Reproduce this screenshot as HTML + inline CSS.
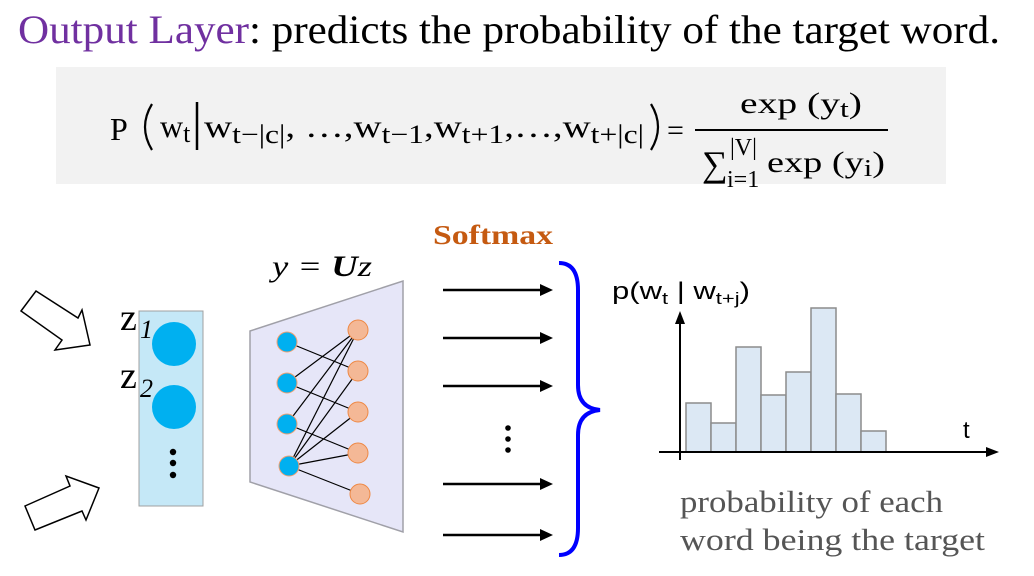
<!DOCTYPE html>
<html><head><meta charset="utf-8"><style>
html,body{margin:0;padding:0;background:#fff;}
svg{display:block;}
</style></head><body>
<svg width="1034" height="576" viewBox="0 0 1034 576">
<text x="18" y="43" font-family="Liberation Serif, serif" font-size="40" fill="#000" textLength="982" lengthAdjust="spacingAndGlyphs"><tspan fill="#7030a0">Output Layer</tspan>: predicts the probability of the target word.</text>
<rect x="56" y="67" width="890" height="117" fill="#f2f2f2"/>
<g font-family="Liberation Serif, serif" fill="#000">
<text x="110" y="140" font-size="32">P</text>
<path d="M152,104 Q138,127 152,150" fill="none" stroke="#000" stroke-width="2.2"/>
<text x="160" y="137" font-size="32">w<tspan font-size="26" dy="5">t</tspan></text>
<line x1="197" y1="102" x2="197" y2="150" stroke="#000" stroke-width="2.5"/>
<text x="204" y="137" font-size="32" textLength="440" lengthAdjust="spacingAndGlyphs">w<tspan font-size="26" dy="6">t−|c|</tspan><tspan dy="-6">, …,w</tspan><tspan font-size="26" dy="6">t−1</tspan><tspan dy="-6">,w</tspan><tspan font-size="26" dy="6">t+1</tspan><tspan dy="-6">,…,w</tspan><tspan font-size="26" dy="6">t+|c|</tspan></text>
<path d="M651,104 Q665,127 651,150" fill="none" stroke="#000" stroke-width="2.2"/>
<text x="667" y="140" font-size="30">=</text>
<line x1="695" y1="130" x2="888" y2="130" stroke="#000" stroke-width="2"/>
<text x="740" y="113" font-size="30" textLength="122" lengthAdjust="spacingAndGlyphs">exp (y<tspan font-size="24" dy="4">t</tspan><tspan dy="-4">)</tspan></text>
<text x="702" y="176" font-size="36">∑</text>
<text x="730" y="155" font-size="24">|V|</text>
<text x="727" y="187" font-size="24">i=1</text>
<text x="767" y="172" font-size="30" textLength="118" lengthAdjust="spacingAndGlyphs">exp (y<tspan font-size="24" dy="4">i</tspan><tspan dy="-4">)</tspan></text>
</g>
<g fill="#fff" stroke="#000" stroke-width="1.5">
<polygon points="21,311 36,291 78,318 82,310 90,345 55,350 62,340"/>
<polygon points="25,506 70,486 66,476 99,488 86,520 82,511 35,530"/>
</g>
<rect x="139" y="311" width="64" height="195" fill="#c5e8f7" stroke="#a0a0a0"/>
<circle cx="174" cy="344" r="22" fill="#00b0f0"/>
<circle cx="174" cy="407" r="22" fill="#00b0f0"/>
<g fill="#000"><circle cx="173" cy="452" r="3.2"/><circle cx="173" cy="463" r="3.2"/><circle cx="173" cy="475" r="3.2"/></g>
<g font-family="Liberation Serif, serif" fill="#000">
<text x="120" y="330" font-size="38">z</text><text x="140" y="338" font-size="26" font-style="italic">1</text>
<text x="120" y="388" font-size="38">z</text><text x="140" y="397" font-size="26" font-style="italic">2</text>
</g>
<text x="272" y="276" font-family="Liberation Serif, serif" font-size="30" font-style="italic" textLength="100" lengthAdjust="spacingAndGlyphs">y = <tspan font-weight="bold">U</tspan>z</text>
<polygon points="250,331 403,281 403,532 250,482" fill="#e6e6f8" stroke="#a0a0a8" stroke-width="1.5"/>
<g stroke="#000" stroke-width="1.2">
<line x1="287" y1="342" x2="358" y2="371"/><line x1="287" y1="383" x2="358" y2="330"/><line x1="287" y1="383" x2="358" y2="412"/>
<line x1="287" y1="424" x2="358" y2="330"/><line x1="287" y1="424" x2="358" y2="453"/><line x1="289" y1="466" x2="358" y2="330"/>
<line x1="289" y1="466" x2="358" y2="371"/><line x1="289" y1="466" x2="358" y2="412"/><line x1="289" y1="466" x2="358" y2="453"/><line x1="289" y1="466" x2="360" y2="494"/>
</g>
<g fill="#00b0f0" stroke="#f4a070" stroke-width="1">
<circle cx="287" cy="342" r="10"/><circle cx="287" cy="383" r="10"/><circle cx="287" cy="424" r="10"/><circle cx="289" cy="466" r="10"/>
</g>
<g fill="#f4b896" stroke="#ee8844" stroke-width="1">
<circle cx="358" cy="330" r="10"/><circle cx="358" cy="371" r="10"/><circle cx="358" cy="412" r="10"/><circle cx="358" cy="453" r="10"/><circle cx="360" cy="494" r="10"/>
</g>
<text x="433" y="244" font-family="Liberation Serif, serif" font-size="27" font-weight="bold" fill="#c55a11" textLength="120" lengthAdjust="spacingAndGlyphs">Softmax</text>
<g stroke="#000" stroke-width="2.5">
<line x1="443" y1="290" x2="542" y2="290"/><line x1="443" y1="338" x2="542" y2="338"/><line x1="443" y1="386" x2="542" y2="386"/>
<line x1="443" y1="484" x2="542" y2="484"/><line x1="443" y1="535" x2="542" y2="535"/>
</g>
<g fill="#000"><polygon points="553,290 540,284 540,296"/><polygon points="553,338 540,332 540,344"/><polygon points="553,386 540,380 540,392"/><polygon points="553,484 540,478 540,490"/><polygon points="553,535 540,529 540,541"/>
<circle cx="508" cy="428" r="2.8"/><circle cx="508" cy="439" r="2.8"/><circle cx="508" cy="450" r="2.8"/></g>
<path d="M559,263 Q578,263 578,290 L578,385 Q578,408 600,410 Q578,412 578,435 L578,528 Q578,555 559,555" fill="none" stroke="#0000ff" stroke-width="4"/>
<g id="chart"></g>
<text x="612" y="299" font-family="Liberation Sans, sans-serif" font-size="24" textLength="138" lengthAdjust="spacingAndGlyphs">p(w<tspan font-size="17" dy="5">t</tspan><tspan dy="-5"> | w</tspan><tspan font-size="17" dy="5">t+j</tspan><tspan dy="-5">)</tspan></text>
<text x="963" y="438" font-family="Liberation Sans, sans-serif" font-size="24">t</text>
<g font-family="Liberation Serif, serif" font-size="31" fill="#555">
<text x="680" y="512" textLength="263" lengthAdjust="spacingAndGlyphs">probability of each</text>
<text x="680" y="550" textLength="305" lengthAdjust="spacingAndGlyphs">word being the target</text>
</g>
</svg>
<script>
const categories = ["w1","w2","w3","w4","w5","w6","w7","w8"];
const probs = [49, 29, 105, 57, 80, 144, 58, 21];
const NS = "http://www.w3.org/2000/svg";
const g = document.getElementById('chart');
const x0 = 686, bw = 25, baseY = 452;
function xPos(i){ return x0 + i * bw; }
function yPos(v){ return baseY - v; }
categories.forEach(function(c, i){
  const r = document.createElementNS(NS, 'rect');
  r.setAttribute('x', xPos(i));
  r.setAttribute('y', yPos(probs[i]));
  r.setAttribute('width', bw);
  r.setAttribute('height', baseY - yPos(probs[i]));
  r.setAttribute('fill', '#dce8f4');
  r.setAttribute('stroke', '#8c8c8c');
  r.setAttribute('stroke-width', '1.5');
  
  
  g.appendChild(r);
});
function mk(tag, attrs){ const e = document.createElementNS(NS, tag); for (const k in attrs) e.setAttribute(k, attrs[k]); g.appendChild(e); return e; }
const ya = mk('line', {x1:680, y1:460, x2:680, y2:322, stroke:'#000', 'stroke-width':2});


mk('polygon', {points:'680,311 675,324 685,324', fill:'#000'});
const xa = mk('line', {x1:659, y1:452, x2:988, y2:452, stroke:'#000', 'stroke-width':2});


mk('polygon', {points:'999,452 986,447 986,457', fill:'#000'});
</script>
</body></html>
